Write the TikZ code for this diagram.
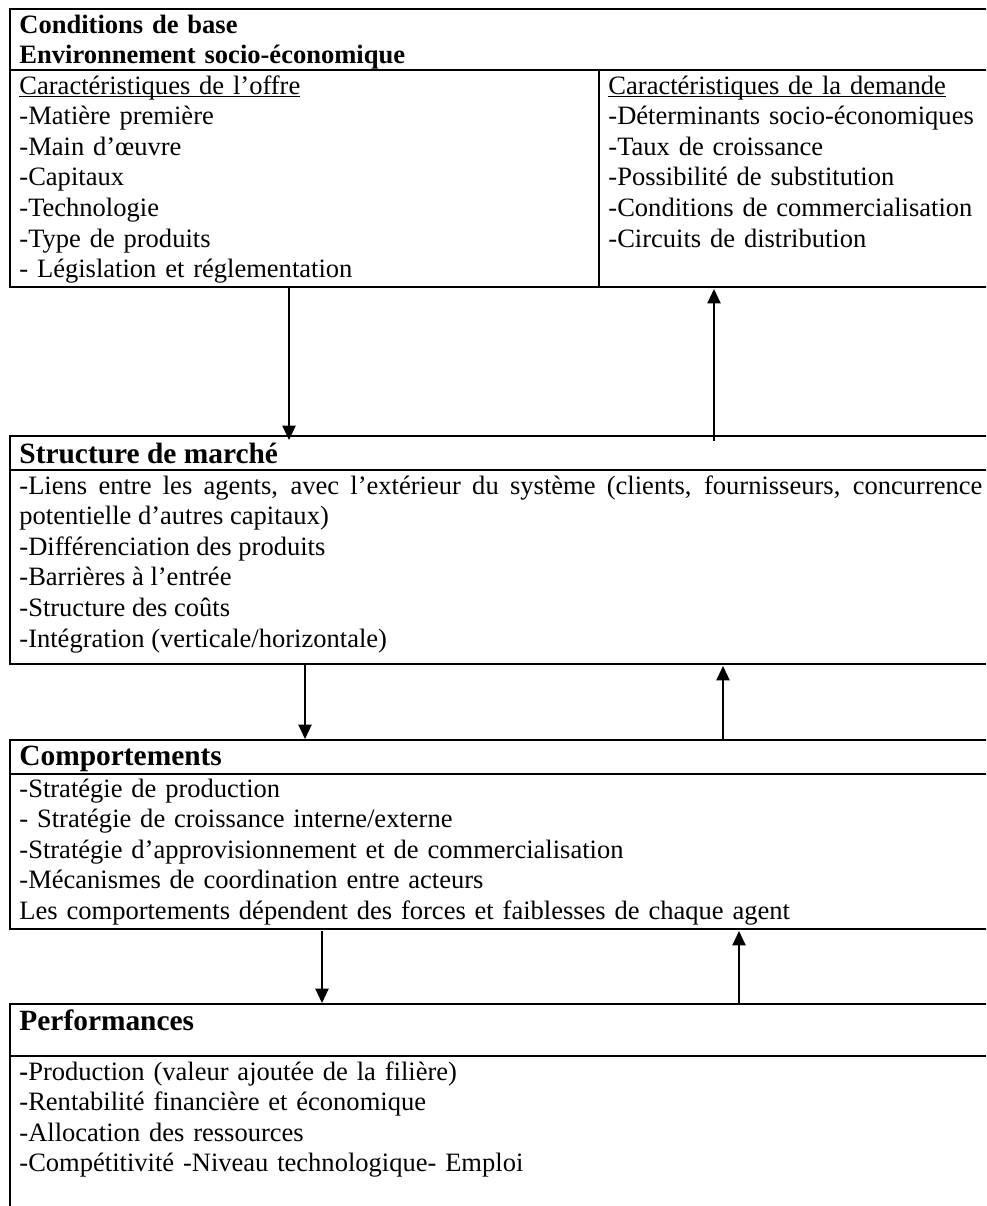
\documentclass[tikz,border=0pt]{standalone}
\usepackage{fontspec}
\setmainfont{Liberation Serif}
\usetikzlibrary{arrows.meta, calc}
% underline sitting close to the baseline, as in the source
\newcommand{\colhead}[1]{\setbox0\hbox{#1}\leavevmode\rlap{\vrule height -1.0pt depth 1.5pt width \wd0}\box0}
\tikzset{
    scpdiagram/.style={x=0.0159cm, y=-0.0159cm, >={Triangle[length=6.5pt, width=6pt]}},
    frame/.style={draw, line width=0.9pt, inner sep=0pt, anchor=north west, minimum width=16cm},
    rule/.style={line width=0.9pt},
    heading/.style={anchor=base west, inner sep=0pt, font=\fontsize{13.3}{16}\selectfont\bfseries},
    items/.style={anchor=base west, inner sep=0pt, text width=15.31cm, align=left,
        font=\fontsize{12}{13.85}\selectfont},
    link/.style={->, line width=0.6pt},
}

\begin{document}
\begin{tikzpicture}[scpdiagram]
    \path[use as bounding box, clip] (0,0) rectangle (986,1206);

    % the four blocks, open on the right
    \node[frame, minimum height=4.42cm] (cond) at (9,8) {};
    \node[frame, minimum height=3.625cm] (market) at (9,435) {};
    \node[frame, minimum height=3.005cm] (behav) at (9,739) {};
    \node[frame, minimum height=3.66cm] (perf) at (9,1003) {};

    \draw[rule] (9,70) -- (1000,70);
    \draw[rule] (599,70) -- (599,286);
    \draw[rule] (9,470) -- (1000,470);
    \draw[rule] (9,774) -- (1000,774);
    \draw[rule] (9,1056) -- (1000,1056);

    % conditions de base
    \node[items, font=\fontsize{12}{13.6}\selectfont\bfseries] (condtitle) at (19,33)
        {Conditions de base\\Environnement socio-économique};
    \node[items, text width=9cm] (offer) at (19,94)
        {\colhead{Caractéristiques de l’offre}\\-Matière première\\-Main d’œuvre\\-Capitaux\\
         -Technologie\\-Type de produits\\- Législation et réglementation};
    \node[items, text width=6cm] (demand) at (608,94)
        {\colhead{Caractéristiques de la demande}\\-Déterminants socio-économiques\\
         -Taux de croissance\\-Possibilité de substitution\\-Conditions de commercialisation\\
         -Circuits de distribution};

    % structure de marche
    \node[heading] (markettitle) at (19,463) {Structure de marché};
    \node[items, align=justify] (marketbody) at (19,494)
        {-Liens entre les agents, avec l’extérieur du système (clients, fournisseurs, concurrence\linebreak
         potentielle d’autres capitaux)\\-Différenciation des produits\\-Barrières à l’entrée\\
         -Structure des coûts\\-Intégration (verticale/horizontale)};

    % comportements
    \node[heading] (behavtitle) at (19,765) {Comportements};
    \node[items] (behavbody) at (19,797)
        {-Stratégie de production\\- Stratégie de croissance interne/externe\\
         -Stratégie d’approvisionnement et de commercialisation\\
         -Mécanismes de coordination entre acteurs\\
         Les comportements dépendent des forces et faiblesses de chaque agent};

    % performances
    \node[heading] (perftitle) at (19,1030) {Performances};
    \node[items] (perfbody) at (19,1080)
        {\textbf{-}Production (valeur ajoutée de la filière)\\-Rentabilité financière et économique\\
         -Allocation des ressources\\-Compétitivité -Niveau technologique- Emploi};

    % links between the blocks
    \draw[link] ($(cond.south west)+(280,0)$) -- ($(market.north west)+(280,5)$);
    \draw[link] ($(market.north west)+(705,6)$) -- ($(cond.south west)+(705,1)$);
    \draw[link] ($(market.south west)+(296,0)$) -- ($(behav.north west)+(296,0)$);
    \draw[link] ($(behav.north west)+(714,0)$) -- ($(market.south west)+(714,1)$);
    \draw[link] ($(behav.south west)+(313,1)$) -- ($(perf.north west)+(313,0)$);
    \draw[link] ($(perf.north west)+(730,1)$) -- ($(behav.south west)+(730,1)$);
\end{tikzpicture}
\end{document}
